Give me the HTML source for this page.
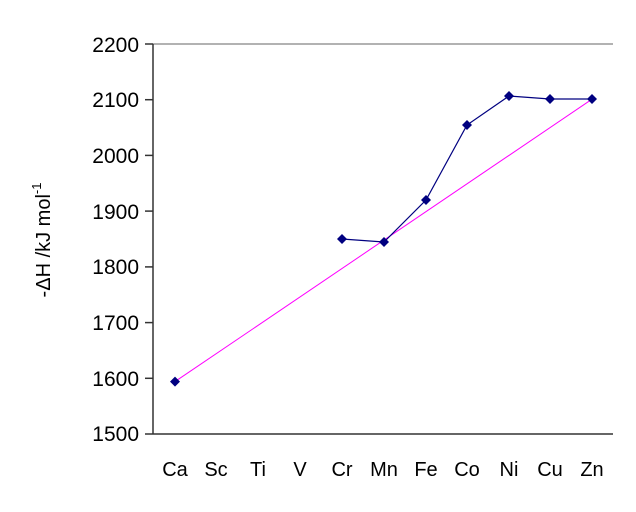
<!DOCTYPE html>
<html><head><style>body{margin:0;background:#fff}svg{display:block}</style></head><body>
<svg width="636" height="512" xmlns="http://www.w3.org/2000/svg" style="font-family:'Liberation Sans',Arial,sans-serif">
<rect width="636" height="512" fill="#fff"/>
<line x1="153" y1="44" x2="613" y2="44" stroke="#999" stroke-width="1.5"/>
<line x1="153" y1="44" x2="153" y2="434" stroke="#333" stroke-width="1.5"/>
<line x1="145" y1="434" x2="613" y2="434" stroke="#333" stroke-width="1.5"/>
<g stroke="#333" stroke-width="1.5">
<line x1="145" y1="44" x2="153" y2="44"/><line x1="145" y1="99.7" x2="153" y2="99.7"/>
<line x1="145" y1="155.4" x2="153" y2="155.4"/><line x1="145" y1="211.1" x2="153" y2="211.1"/>
<line x1="145" y1="266.9" x2="153" y2="266.9"/><line x1="145" y1="322.6" x2="153" y2="322.6"/>
<line x1="145" y1="378.3" x2="153" y2="378.3"/>
</g>
<g font-size="21" text-anchor="end" fill="#000">
<text x="139" y="52">2200</text><text x="139" y="107">2100</text><text x="139" y="163">2000</text>
<text x="139" y="219">1900</text><text x="139" y="274">1800</text><text x="139" y="330">1700</text>
<text x="139" y="386">1600</text><text x="139" y="441">1500</text>
</g>
<g font-size="20" text-anchor="middle" fill="#000">
<text x="175" y="476">Ca</text><text x="216" y="476">Sc</text><text x="258" y="476">Ti</text>
<text x="300" y="476">V</text><text x="342" y="476">Cr</text><text x="384" y="476">Mn</text>
<text x="426" y="476">Fe</text><text x="467" y="476">Co</text><text x="509" y="476">Ni</text>
<text x="550" y="476">Cu</text><text x="592" y="476">Zn</text>
</g>
<text transform="translate(50,240) rotate(-90)" font-size="20" text-anchor="middle">-ΔH /kJ mol<tspan font-size="13" dy="-9">-1</tspan></text>
<line x1="175" y1="381.6" x2="592" y2="99.2" stroke="#ff00ff" stroke-width="1"/>
<polyline points="342,239 384,242 426,200 467,125 509,96 550,99 592,99" fill="none" stroke="#000080" stroke-width="1.2"/>
<g fill="#000080">
<path d="M175 376.6l5 5-5 5-5-5z"/>
<path d="M342 234l5 5-5 5-5-5z"/><path d="M384 237l5 5-5 5-5-5z"/>
<path d="M426 195l5 5-5 5-5-5z"/><path d="M467 120l5 5-5 5-5-5z"/>
<path d="M509 91l5 5-5 5-5-5z"/><path d="M550 94l5 5-5 5-5-5z"/>
<path d="M592 94l5 5-5 5-5-5z"/>
</g>
</svg>
</body></html>
